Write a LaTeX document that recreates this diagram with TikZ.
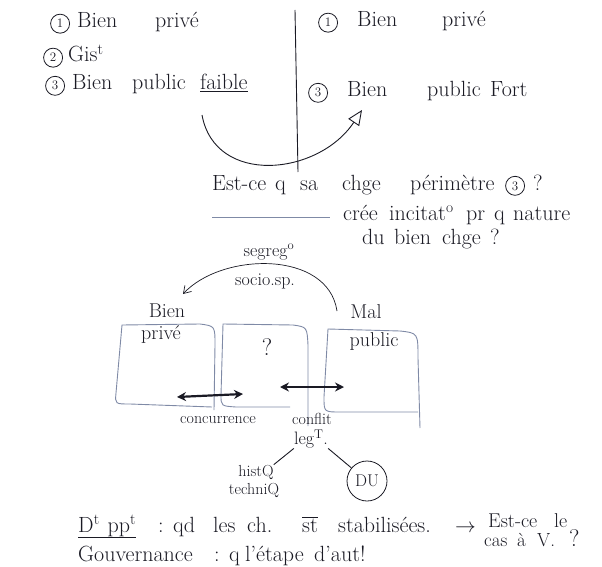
\documentclass[tikz,border=0pt]{standalone}
\usepackage{fontspec}
\usetikzlibrary{arrows.meta}
\definecolor{ink}{HTML}{1A1A24}
\definecolor{pencil}{HTML}{7F8AA6}
\newcommand{\cnum}[1]{\tikz[baseline=(c.base)]\node[draw=ink,circle,line width=0.8pt,inner sep=0pt,minimum size=19pt,font=\fontsize{13}{13}\selectfont](c){#1};}
\newcommand{\wbox}[2]{\makebox[#1pt][l]{#2}}
\begin{document}
\begin{tikzpicture}[x=1pt,y=-1pt,
  txt/.style={inner sep=0pt, anchor=base west, text=ink, font=\fontsize{22}{26}\selectfont},
  small/.style={inner sep=0pt, text=ink, font=\fontsize{16}{18}\selectfont},
  mid/.style={inner sep=0pt, text=ink, font=\fontsize{20}{22}\selectfont},
  hand/.style={draw=ink, line width=0.9pt},
  boxline/.style={draw=pencil, line width=0.9pt},
  dbl/.style={draw=ink, line width=2.2pt, {Stealth[length=9pt,width=9pt]}-{Stealth[length=9pt,width=9pt]}}]
\useasboundingbox (0,0) rectangle (602,567);
% top left
\node[txt] (l1) at (50,28) {\wbox{27}{\cnum{1}}\wbox{78}{Bien}privé};
\node[txt] (l2) at (43,62) {\wbox{25}{\cnum{2}}Gis\textsuperscript{t}};
\node[txt] (l3) at (45,90) {\wbox{27}{\cnum{3}}\wbox{60}{Bien}\wbox{68}{public}\underline{faible}};
% separator
\coordinate (v1) at (295,10);
\coordinate (v2) at (298,172);
\draw[hand] (v1) -- (v2);
% top right
\node[txt] (r1) at (318,27) {\wbox{39}{\cnum{1}}\wbox{85}{Bien}privé};
\node[txt] (r3) at (308,97) {\wbox{39}{\cnum{3}}\wbox{80}{Bien}\wbox{63}{public}Fort};
% U arrow
\coordinate (u1) at (202,115);
\coordinate (u2) at (362,110);
\draw[hand, -{Triangle[open,length=15pt,width=13pt]}] (u1) .. controls (215,186) and (318,176) .. (u2);
% question
\node[txt] (q1) at (212,190) {\wbox{63}{Est-ce}\wbox{25}{q}\wbox{42}{sa}\wbox{68}{chge}\wbox{95}{périmètre}\wbox{28}{\cnum{3}}?};
\coordinate (h1) at (212,217);
\coordinate (h2) at (330,217);
\draw[boxline] (h1) -- (h2);
\node[txt] (q2) at (343,220) {\wbox{46}{crée}\wbox{77}{incitat\textsuperscript{o}}\wbox{28}{pr}\wbox{19}{q}nature};
\node[txt] (q3) at (362,244) {\wbox{32}{du}\wbox{48}{bien}\wbox{48}{chge}?};
% arc arrow
\coordinate (a1) at (337,311);
\coordinate (a2) at (183,294);
\draw[hand, line width=0.7pt, -{Straight Barb[length=7pt,width=9pt]}] (a1) .. controls (328,250) and (222,252) .. (a2);
\node[small, font=\fontsize{18}{20}\selectfont] (sg) at (269,252) {segreg\textsuperscript{o}};
\node[small, font=\fontsize{18}{20}\selectfont] (sp) at (265,281) {socio.sp.};
% labels
\node[mid] (bn) at (167,311) {Bien};
\node[mid] (pv) at (161,334) {privé};
\node[mid] (ml) at (366,312) {Mal};
\node[mid] (pb) at (374,342) {public};
\node[small, font=\fontsize{24}{26}\selectfont] (qm) at (267,347) {?};
% boxes
\draw[boxline] (214,410) -- (215,345) .. controls (215,326) .. (200,324) -- (122,325) -- (116,393) .. controls (115,404) .. (130,404) -- (212,407);
\draw[boxline] (308,426) -- (308,345) .. controls (307,327) .. (293,325) -- (223,324) -- (221,395) .. controls (221,406) .. (236,407) -- (290,407);
\draw[boxline] (420,428) -- (418,358) .. controls (418,333) .. (400,331) -- (328,329) -- (324,397) .. controls (324,412) .. (340,412) -- (418,412);
% double arrows
\coordinate (d1) at (177,397);
\coordinate (d2) at (243,394);
\draw[dbl] (d1) -- (d2);
\coordinate (e1) at (280,387);
\coordinate (e2) at (344,387);
\draw[dbl] (e1) -- (e2);
\node[small] (cc) at (218,420) {concurrence};
\node[small] (cf) at (312,419) {conflit};
\node[small, font=\fontsize{18}{20}\selectfont] (lg) at (311,439) {leg\textsuperscript{T}.};
% tree
\node[small] (hs) at (256,472) {hist{Q}};
\node[small] (tc) at (254,490) {techni{Q}};
\node[draw=ink, circle, line width=0.8pt, minimum size=40pt, inner sep=0pt, text=ink, font=\fontsize{17}{19}\selectfont] (du) at (367,481) {DU};
\draw[hand] (lg.south west) -- (hs.north east);
\draw[hand] (lg.south east) -- (du);
% bottom
\node[txt] (b1) at (78,532) {\wbox{80}{\underline{D\textsuperscript{t}\hspace{8pt}pp\textsuperscript{t}}}\wbox{15}{:}\wbox{40}{qd}\wbox{34}{les}\wbox{55}{ch.}\wbox{36}{$\overline{\mbox{st}}$}\wbox{117}{stabilisées.}$\rightarrow$};
\node[small, anchor=base west, font=\fontsize{20}{22}\selectfont] (b2) at (488,527) {\wbox{66}{Est-ce}le};
\node[small, anchor=base west, font=\fontsize{19}{21}\selectfont] (b3) at (484,546) {\wbox{33}{cas}\wbox{20}{à}\wbox{32}{V.}{\fontsize{24}{26}\selectfont ?}};
\node[txt] (b4) at (78,561) {\wbox{136}{Gouvernance}\wbox{15}{:}\wbox{16}{q}\wbox{69}{l'étape}d'aut!};
\end{tikzpicture}
\end{document}
